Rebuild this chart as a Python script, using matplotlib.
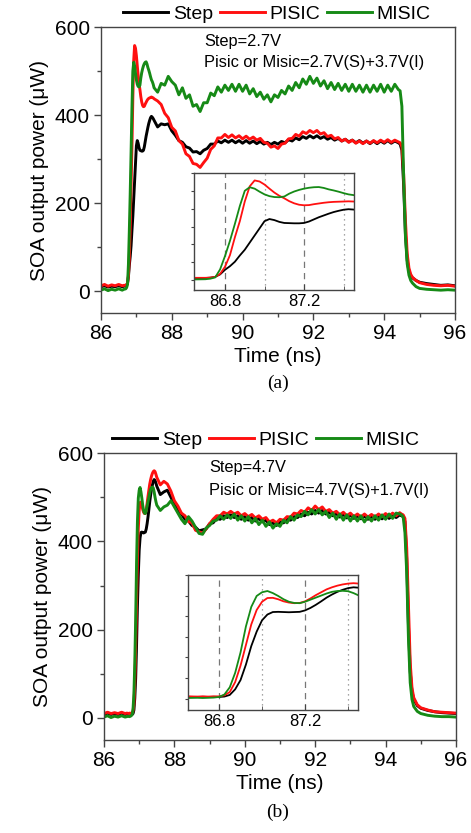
import matplotlib
matplotlib.use('Agg')
import matplotlib.pyplot as plt
from matplotlib.ticker import FixedLocator

plt.rcParams['font.family'] = ['Liberation Sans', 'DejaVu Sans']

# ---------------- data ----------------
T_PRE = [86.0, 86.1, 86.2, 86.3, 86.4, 86.5, 86.6, 86.65, 86.7,
         86.725, 86.75, 86.775, 86.8, 86.825, 86.85, 86.875, 86.9, 86.925, 86.95, 86.975,
         87.0, 87.025, 87.05, 87.075, 87.1, 87.125, 87.15, 87.175, 87.2, 87.225,
         87.25, 87.275, 87.3, 87.325, 87.35, 87.375, 87.4, 87.425, 87.45, 87.475, 87.5]
T_MID = [87.6, 87.7, 87.8, 87.9, 88.0, 88.1, 88.2, 88.3, 88.4, 88.5,
         88.6, 88.7, 88.8, 88.9, 89.0, 89.1, 89.2, 89.3, 89.4, 89.5,
         89.6, 89.7, 89.8, 89.9, 90.0, 90.1, 90.2, 90.3, 90.4, 90.5,
         90.6, 90.7, 90.8, 90.9, 91.0, 91.1, 91.2, 91.3, 91.4, 91.5,
         91.6, 91.7, 91.8, 91.9, 92.0, 92.1, 92.2, 92.3, 92.4, 92.5,
         92.6, 92.7, 92.8, 92.9, 93.0, 93.1, 93.2, 93.3, 93.4, 93.5,
         93.6, 93.7, 93.8, 93.9, 94.0, 94.1, 94.2, 94.3, 94.4]
T_END = [94.45, 94.5, 94.55, 94.6, 94.65, 94.7, 94.75, 94.8, 94.9, 95.0,
         95.2, 95.4, 95.6, 95.8, 96.0]
TIME = T_PRE + T_MID + T_END

# panel (a): Step=2.7V
STEP_A = [10, 12, 9, 11, 10, 12, 10, 11, 12,
          14, 18, 32, 58, 78, 103, 138, 170, 210, 250, 290,
          330, 342, 336, 326, 320, 319, 318, 318, 320, 328,
          340, 352, 362, 372, 381, 388, 394, 397, 395, 392, 388,
          373, 380, 378, 380, 364, 354, 342, 338, 328, 325,
          316, 317, 312, 320, 324, 334, 334, 341, 337, 343,
          338, 343, 337, 342, 336, 342, 336, 341, 335, 340,
          334, 338, 333, 338, 334, 340, 337, 344, 341, 348,
          344, 351, 347, 353, 348, 353, 347, 351, 345, 349,
          343, 347, 341, 345, 339, 343, 337, 342, 336, 341,
          335, 341, 335, 341, 336, 342, 336, 341, 337,
          334, 320, 240, 130, 70, 45, 35, 30, 24, 20, 17, 15, 13, 14, 12]
PISIC_A = [12, 15, 11, 14, 12, 15, 12, 13, 13,
           14, 18, 35, 75, 140, 240, 330, 440, 525, 558, 552,
           535, 512, 490, 472, 458, 442, 430, 422, 419, 420,
           425, 429, 433, 436, 438, 439, 440, 441, 440, 439, 437,
           432, 424, 404, 394, 372, 364, 342, 334, 312, 306,
           290, 288, 281, 292, 302, 322, 330, 348, 348, 356,
           349, 355, 348, 353, 346, 352, 345, 350, 343, 347,
           338, 336, 327, 330, 324, 334, 336, 346, 347, 356,
           352, 362, 358, 365, 360, 365, 357, 360, 351, 354,
           346, 349, 341, 345, 338, 343, 336, 341, 335, 341,
           336, 342, 337, 343, 338, 344, 338, 343, 339,
           337, 328, 265, 160, 85, 52, 38, 31, 24, 19, 15, 13, 12, 13, 11]
MISIC_A = [2, 5, 1, 4, 2, 5, 2, 4, 5,
           8, 15, 60, 135, 220, 315, 415, 500, 520, 512, 495,
           480, 470, 465, 464, 468, 484, 496, 505, 512, 517,
           520, 521, 516, 508, 502, 495, 487, 480, 476, 470, 462,
           452, 472, 468, 488, 476, 468, 446, 462, 438, 446,
           420, 424, 408, 428, 428, 450, 444, 464, 452, 468,
           456, 470, 454, 470, 454, 468, 448, 460, 442, 452,
           436, 446, 430, 446, 440, 456, 448, 466, 456, 474,
           462, 482, 470, 488, 472, 484, 466, 478, 460, 474,
           458, 472, 456, 470, 454, 470, 454, 468, 452, 468,
           452, 468, 454, 470, 452, 468, 454, 470, 458,
           455, 420, 260, 125, 62, 36, 24, 18, 10, 6, 4, 3, 2, 3, 2]

# panel (b): Step=4.7V
STEP_B = [8, 11, 8, 10, 8, 11, 8, 9, 8,
          9, 8, 9, 8, 10, 18, 45, 90, 165, 255, 325,
          380, 408, 420, 421, 420, 419, 420, 421, 428, 440,
          455, 472, 490, 505, 518, 528, 536, 540, 538, 532, 525,
          506, 512, 516, 500, 484, 470, 462, 450, 446, 436,
          432, 424, 426, 428, 440, 442, 452, 450, 458, 454,
          460, 454, 458, 450, 456, 448, 454, 446, 452, 444,
          448, 438, 442, 436, 444, 442, 450, 448, 456, 454,
          462, 458, 466, 462, 470, 464, 470, 462, 466, 458,
          463, 455, 461, 453, 459, 452, 458, 451, 457, 450,
          456, 450, 457, 451, 458, 452, 459, 454, 460,
          458, 456, 445, 360, 210, 105, 60, 42, 28, 22, 17, 14, 12, 11, 10]
PISIC_B = [10, 13, 10, 12, 10, 13, 10, 11, 10,
           11, 10, 11, 11, 16, 32, 80, 160, 260, 360, 430,
           470, 488, 489, 482, 472, 466, 463, 464, 472, 486,
           502, 516, 530, 540, 548, 554, 558, 560, 558, 552, 545,
           528, 536, 530, 514, 492, 480, 464, 458, 445, 442,
           425, 422, 418, 428, 440, 450, 458, 458, 466, 462,
           468, 462, 466, 458, 463, 456, 461, 453, 458, 450,
           454, 444, 448, 442, 450, 448, 456, 455, 464, 462,
           470, 466, 476, 470, 480, 472, 478, 468, 472, 464,
           468, 460, 466, 458, 464, 456, 462, 455, 462, 455,
           461, 455, 462, 456, 463, 457, 464, 458, 465,
           462, 460, 452, 385, 255, 125, 68, 46, 30, 23, 18, 14, 13, 12, 11]
MISIC_B = [2, 5, 1, 4, 2, 5, 2, 3, 4,
           3, 4, 5, 8, 20, 55, 125, 224, 350, 445, 498,
           516, 522, 512, 498, 482, 470, 464, 463, 470, 480,
           490, 500, 510, 518, 522, 523, 521, 512, 500, 490, 482,
           470, 478, 482, 492, 478, 464, 450, 440, 456, 446,
           432, 418, 416, 430, 436, 446, 448, 458, 450, 460,
           452, 462, 448, 458, 446, 456, 442, 452, 438, 448,
           434, 444, 430, 440, 434, 448, 442, 456, 448, 460,
           456, 468, 460, 472, 462, 472, 460, 468, 454, 464,
           450, 462, 448, 460, 446, 458, 446, 458, 444, 456,
           446, 458, 448, 460, 450, 462, 452, 464, 462,
           460, 455, 420, 330, 180, 80, 42, 26, 15, 10, 6, 4, 3, 3, 2]

SERIES_NAMES = ['Step', 'PISIC', 'MISIC']
X_MAJOR = [86, 88, 90, 92, 94, 96]
X_MINOR = [87, 89, 91, 93, 95]
Y_MAJOR = [0, 200, 400, 600]
Y_MINOR = [100, 300, 500]
INSET_X_MAJOR = [86.8, 87.2]
INSET_X_MINOR = [87.0, 87.4]
INSET_Y = [0, 100, 200, 300, 400, 500, 600]
NOTES_A = ['Step=2.7V', 'Pisic or Misic=2.7V(S)+3.7V(I)']
NOTES_B = ['Step=4.7V', 'Pisic or Misic=4.7V(S)+1.7V(I)']

COLORS = ['#000000', '#ff1010', '#168a16']
SPINE = '#444444'

fig = plt.figure(figsize=(4.71, 8.33), dpi=100)


def style_main(ax):
    ax.set_xlim(86, 96)
    ax.set_ylim(-50, 600)
    ax.xaxis.set_major_locator(FixedLocator(X_MAJOR))
    ax.xaxis.set_minor_locator(FixedLocator(X_MINOR))
    ax.yaxis.set_major_locator(FixedLocator(Y_MAJOR))
    ax.yaxis.set_minor_locator(FixedLocator(Y_MINOR))
    ax.tick_params(which='major', direction='out', length=5, width=1,
                   labelsize=15, color=SPINE, pad=3)
    ax.tick_params(which='minor', direction='out', length=3, width=1, color=SPINE)
    for s in ax.spines.values():
        s.set_color(SPINE)
        s.set_linewidth(1.0)
    ax.set_xlabel('Time (ns)', fontsize=15, labelpad=3)
    ax.set_ylabel('SOA output power (\u03bcW)', fontsize=15, labelpad=4)


def style_inset(ins, xlim):
    ins.set_xlim(*xlim)
    ins.set_ylim(-55, 600)
    ins.xaxis.set_major_locator(FixedLocator(INSET_X_MAJOR))
    ins.xaxis.set_minor_locator(FixedLocator(INSET_X_MINOR))
    ins.yaxis.set_major_locator(FixedLocator(INSET_Y))
    ins.set_yticklabels([])
    ins.tick_params(axis='x', which='major', direction='in', length=4, labelsize=12,
                    color=SPINE, pad=3)
    ins.tick_params(axis='x', which='minor', direction='in', length=3, color=SPINE)
    ins.tick_params(axis='y', direction='out', length=2.5, color=SPINE)
    for v in INSET_X_MAJOR:
        ins.axvline(v, color='#777777', lw=0.9, ls=(0, (5, 4)), zorder=0)
    for v in INSET_X_MINOR:
        ins.axvline(v, color='#888888', lw=0.9, ls=(0, (1, 3)), zorder=0)
    for s in ins.spines.values():
        s.set_color(SPINE)
        s.set_linewidth(1.0)


def panel(rect, ins_rect, ins_xlim, ys, notes, note_x, note_y, leg_x, cap, cap_xy):
    ax = fig.add_axes(rect)
    for name, y, c in zip(SERIES_NAMES, ys, COLORS):
        ax.plot(TIME, y, color=c, lw=2.1, label=name, solid_joinstyle='round')
    style_main(ax)
    ax.legend(loc='center', bbox_to_anchor=(leg_x, 1.045), ncol=3, frameon=False,
              fontsize=14, handlelength=2.3, handletextpad=0.25, columnspacing=0.35,
              borderaxespad=0, borderpad=0)
    ax.text(note_x, note_y[0], notes[0], transform=ax.transAxes, fontsize=11.8,
            ha='left', va='center')
    ax.text(note_x, note_y[1], notes[1], transform=ax.transAxes, fontsize=11.8,
            ha='left', va='center')
    ins = fig.add_axes(ins_rect)
    ins.set_facecolor('white')
    for name, y, c in zip(SERIES_NAMES, ys, COLORS):
        ins.plot(TIME, y, color=c, lw=1.3)
    style_inset(ins, ins_xlim)
    fig.text(cap_xy[0], cap_xy[1], cap, family=['Liberation Serif', 'DejaVu Serif'],
             fontsize=14, ha='center', va='center')


panel([0.2144, 0.6242, 0.7516, 0.3433], [0.4119, 0.6519, 0.3397, 0.1405],
      (86.643, 87.453), [STEP_A, PISIC_A, MISIC_A], NOTES_A, 0.291, (0.948, 0.876),
      0.497, '(a)', (0.59, 0.540))
panel([0.2208, 0.1116, 0.7473, 0.3445], [0.3992, 0.1477, 0.3609, 0.1621],
      (86.656, 87.446), [STEP_B, PISIC_B, MISIC_B], NOTES_B, 0.298, (0.948, 0.871),
      0.46, '(b)', (0.59, 0.025))

fig.savefig('out.png', dpi=100)
